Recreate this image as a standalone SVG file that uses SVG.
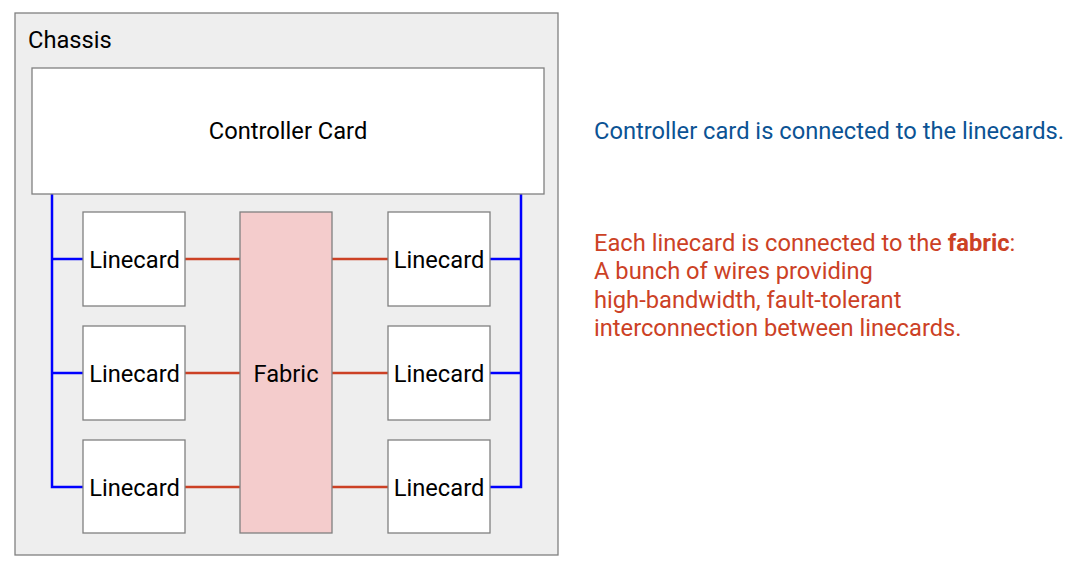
<svg xmlns="http://www.w3.org/2000/svg" width="1078" height="568" viewBox="0 0 1078 568">
<style>
text{font-family:Roboto,"Liberation Sans",sans-serif;font-size:23.7px;fill:#000}
.box{fill:#fff;stroke:#808080;stroke-width:1.3}
.c{text-anchor:middle}
.blue{stroke:#0000ff;stroke-width:2.5;fill:none}
.red{stroke:#cc4125;stroke-width:2.5;fill:none}
</style>
<rect width="1078" height="568" fill="#fff"/>
<g id="chassis">
<rect x="15" y="13" width="543" height="542" fill="#eeeeee" stroke="#808080" stroke-width="1.3"/>
<text x="28" y="48">Chassis</text>
</g>
<g id="connectors">
<polyline class="blue" points="52,194 52,487 83,487"/>
<line class="blue" x1="52" y1="259" x2="83" y2="259"/>
<line class="blue" x1="52" y1="373" x2="83" y2="373"/>
<polyline class="blue" points="521,194 521,487 490,487"/>
<line class="blue" x1="521" y1="259" x2="490" y2="259"/>
<line class="blue" x1="521" y1="373" x2="490" y2="373"/>
<line class="red" x1="185" y1="259" x2="240" y2="259"/>
<line class="red" x1="185" y1="373" x2="240" y2="373"/>
<line class="red" x1="185" y1="487" x2="240" y2="487"/>
<line class="red" x1="332" y1="259" x2="388" y2="259"/>
<line class="red" x1="332" y1="373" x2="388" y2="373"/>
<line class="red" x1="332" y1="487" x2="388" y2="487"/>
</g>
<g id="controller">
<rect class="box" x="32" y="68" width="512" height="126"/>
<text class="c" x="288" y="139">Controller Card</text>
</g>
<g id="fabric">
<rect x="240" y="212" width="92" height="321" fill="#f4cccc" stroke="#808080" stroke-width="1.3"/>
<text class="c" x="286" y="382">Fabric</text>
</g>
<g id="lc1"><rect class="box" x="83" y="212" width="102" height="94"/><text class="c" x="134.5" y="268">Linecard</text></g>
<g id="lc2"><rect class="box" x="83" y="326" width="102" height="94"/><text class="c" x="134.5" y="382">Linecard</text></g>
<g id="lc3"><rect class="box" x="83" y="440" width="102" height="93"/><text class="c" x="134.5" y="496">Linecard</text></g>
<g id="lc4"><rect class="box" x="388" y="212" width="102" height="94"/><text class="c" x="439" y="268">Linecard</text></g>
<g id="lc5"><rect class="box" x="388" y="326" width="102" height="94"/><text class="c" x="439" y="382">Linecard</text></g>
<g id="lc6"><rect class="box" x="388" y="440" width="102" height="93"/><text class="c" x="439" y="496">Linecard</text></g>
<g id="notes">
<text x="594" y="139" style="fill:#0b5394">Controller card is connected to the linecards.</text>
<text x="594" y="250.5" style="fill:#cc4125">Each linecard is connected to the <tspan font-weight="bold">fabric</tspan>:</text>
<text x="594" y="279" style="fill:#cc4125">A bunch of wires providing</text>
<text x="594" y="307.5" style="fill:#cc4125">high-bandwidth, fault-tolerant</text>
<text x="594" y="336" style="fill:#cc4125">interconnection between linecards.</text>
</g>
</svg>
